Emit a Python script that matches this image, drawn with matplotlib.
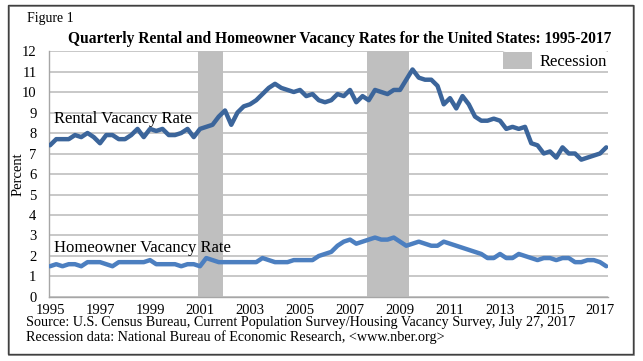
import numpy as np
import matplotlib
matplotlib.use("Agg")
import matplotlib.pyplot as plt
from matplotlib.patches import Rectangle, Patch

# Quarterly vacancy rates, 1995 Q1 - 2017 Q2 (percent)
rental = [
    7.4, 7.7, 7.7, 7.7,    # 1995
    7.9, 7.8, 8.0, 7.8,    # 1996
    7.5, 7.9, 7.9, 7.7,    # 1997
    7.7, 7.9, 8.2, 7.8,    # 1998
    8.2, 8.1, 8.2, 7.9,    # 1999
    7.9, 8.0, 8.2, 7.8,    # 2000
    8.2, 8.3, 8.4, 8.8,    # 2001
    9.1, 8.4, 9.0, 9.3,    # 2002
    9.4, 9.6, 9.9, 10.2,   # 2003
    10.4, 10.2, 10.1, 10.0,  # 2004
    10.1, 9.8, 9.9, 9.6,   # 2005
    9.5, 9.6, 9.9, 9.8,    # 2006
    10.1, 9.5, 9.8, 9.6,   # 2007
    10.1, 10.0, 9.9, 10.1,  # 2008
    10.1, 10.6, 11.1, 10.7,  # 2009
    10.6, 10.6, 10.3, 9.4,  # 2010
    9.7, 9.2, 9.8, 9.4,    # 2011
    8.8, 8.6, 8.6, 8.7,    # 2012
    8.6, 8.2, 8.3, 8.2,    # 2013
    8.3, 7.5, 7.4, 7.0,    # 2014
    7.1, 6.8, 7.3, 7.0,    # 2015
    7.0, 6.7, 6.8, 6.9,    # 2016
    7.0, 7.3,              # 2017
]
homeowner = [
    1.5, 1.6, 1.5, 1.6,    # 1995
    1.6, 1.5, 1.7, 1.7,    # 1996
    1.7, 1.6, 1.5, 1.7,    # 1997
    1.7, 1.7, 1.7, 1.7,    # 1998
    1.8, 1.6, 1.6, 1.6,    # 1999
    1.6, 1.5, 1.6, 1.6,    # 2000
    1.5, 1.9, 1.8, 1.7,    # 2001
    1.7, 1.7, 1.7, 1.7,    # 2002
    1.7, 1.7, 1.9, 1.8,    # 2003
    1.7, 1.7, 1.7, 1.8,    # 2004
    1.8, 1.8, 1.8, 2.0,    # 2005
    2.1, 2.2, 2.5, 2.7,    # 2006
    2.8, 2.6, 2.7, 2.8,    # 2007
    2.9, 2.8, 2.8, 2.9,    # 2008
    2.7, 2.5, 2.6, 2.7,    # 2009
    2.6, 2.5, 2.5, 2.7,    # 2010
    2.6, 2.5, 2.4, 2.3,    # 2011
    2.2, 2.1, 1.9, 1.9,    # 2012
    2.1, 1.9, 1.9, 2.1,    # 2013
    2.0, 1.9, 1.8, 1.9,    # 2014
    1.9, 1.8, 1.9, 1.9,    # 2015
    1.7, 1.7, 1.8, 1.8,    # 2016
    1.7, 1.5,              # 2017
]
quarters = 1995 + np.arange(len(rental)) / 4.0
year_ticks = list(range(1995, 2018, 2))
recessions = [(2000.92, 2001.92), (2007.68, 2009.36)]

plt.rcParams['font.family'] = ['Liberation Serif', 'DejaVu Serif']

fig = plt.figure(figsize=(6.43, 3.61), dpi=100)
ax = fig.add_axes([0.0762, 0.1773, 0.8694, 0.6814])

for start, end in recessions:
    ax.axvspan(start, end, color='#BFBFBF', lw=0, zorder=1)

ax.plot(quarters, rental, color='#3B659B', lw=3.2, solid_capstyle='round',
        solid_joinstyle='round', zorder=3)
ax.plot(quarters, homeowner, color='#4C7FC0', lw=3.2, solid_capstyle='round',
        solid_joinstyle='round', zorder=3)

ax.set_xlim(1994.96, 2017.32)
ax.set_ylim(0, 12)
ax.set_yticks(range(0, 13))
ax.set_xticks(year_ticks)
ax.set_xticklabels([str(y) for y in year_ticks])
ax.yaxis.grid(True, color='#BFBFBF', lw=1.2, zorder=0)
ax.set_axisbelow(True)
ax.tick_params(axis='both', length=0, labelsize=10.5)
ax.tick_params(axis='x', pad=5)
ax.tick_params(axis='y', pad=9)
for s in ['top', 'right']:
    ax.spines[s].set_visible(False)
for s in ['left', 'bottom']:
    ax.spines[s].set_color('#A6A6A6')
    ax.spines[s].set_linewidth(1.0)
ax.set_ylabel('Percent', fontsize=10.5, labelpad=-2)

ax.text(1995.15, 8.3, 'Rental Vacancy Rate', fontsize=12, va='bottom')
ax.text(1995.15, 2.0, 'Homeowner Vacancy Rate', fontsize=12, va='bottom')

leg = ax.legend(handles=[Patch(facecolor='#BFBFBF', edgecolor='none', label='Recession')],
                loc='upper right', bbox_to_anchor=(1.0, 1.0), frameon=True,
                fontsize=12, handlelength=1.75, handleheight=1.2,
                borderpad=0.05, handletextpad=0.45, borderaxespad=0.0)
leg.get_frame().set_edgecolor('none')
leg.get_frame().set_facecolor('white')
leg.get_frame().set_alpha(1)

fig.text(0.042, 0.95, 'Figure 1', fontsize=10, va='center')
fig.text(0.529, 0.892, 'Quarterly Rental and Homeowner Vacancy Rates for the United States: 1995-2017',
         fontsize=11.2, fontweight='bold', ha='center', va='center')
fig.text(0.040, 0.108, 'Source: U.S. Census Bureau, Current Population Survey/Housing Vacancy Survey, July 27, 2017',
         fontsize=10.2, va='center')
fig.text(0.040, 0.066, 'Recession data: National Bureau of Economic Research, <www.nber.org>',
         fontsize=10.2, va='center')

# figure frame with a slight shadow on the right and bottom
fig.patches.append(Rectangle((0.0140, 0.0165), 0.972, 0.967, transform=fig.transFigure,
                             fill=False, edgecolor='#7F7F7F', lw=1.2, zorder=0))
fig.patches.append(Rectangle((0.0124, 0.0194), 0.972, 0.967, transform=fig.transFigure,
                             fill=False, edgecolor='#404040', lw=1.0, zorder=1))

fig.savefig('out.png', dpi=100, facecolor='white')
